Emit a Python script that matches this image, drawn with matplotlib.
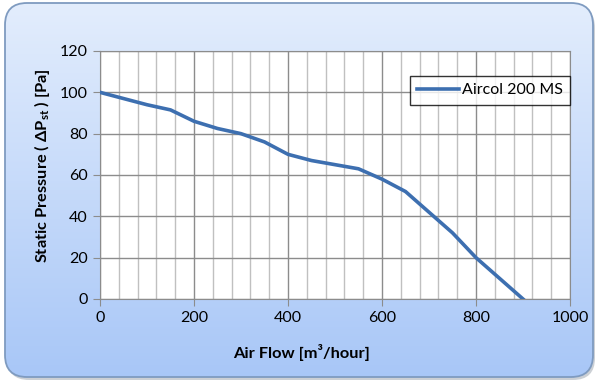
import matplotlib.pyplot as plt
import numpy as np
from matplotlib.patches import FancyBboxPatch
from matplotlib.ticker import MultipleLocator

# data
air_flow = [0, 50, 100, 150, 200, 250, 300, 350, 400, 450, 500, 550, 600, 650, 700, 750, 800, 850, 900]
pressure = [100, 97, 94, 91.5, 86, 82.5, 80, 76, 70, 67, 65, 63, 58, 52, 42, 32, 20, 10, 0]
serie = "Aircol 200 MS"

plt.rcParams['font.family'] = ['Lato', 'DejaVu Sans']
plt.rcParams['mathtext.fontset'] = 'custom'
plt.rcParams['mathtext.rm'] = 'Lato'
plt.rcParams['mathtext.bf'] = 'Lato:bold'
plt.rcParams['mathtext.fallback'] = 'stixsans'

fig = plt.figure(figsize=(6, 3.86), dpi=100)

# fondo con degradado y esquinas redondeadas
fondo = fig.add_axes([0, 0, 1, 1])
fondo.set_xlim(0, 600)
fondo.set_ylim(386, 0)
fondo.axis('off')
sombra = FancyBboxPatch((7, 6), 588, 374, boxstyle="round,pad=0,rounding_size=22",
                        fc='#9aa3ad', ec='none', alpha=0.5, zorder=0)
fondo.add_patch(sombra)
caja = FancyBboxPatch((5, 3), 588, 374, boxstyle="round,pad=0,rounding_size=22",
                      fc='none', ec='#7f9bc0', lw=1.3, zorder=3)
fondo.add_patch(caja)
grad = np.linspace(0, 1, 256).reshape(-1, 1)
top = np.array([0.89, 0.93, 0.99])
bot = np.array([0.66, 0.78, 0.97])
img = top + (bot - top) * grad[..., None]
im = fondo.imshow(img, extent=(5, 593, 377, 3), aspect='auto', zorder=1)
im.set_clip_path(caja)

ax = fig.add_axes([100/600, 1-299/386, 470/600, 248/386])
ax.set_facecolor('white')
ax.plot(air_flow, pressure, color='#3d6fb0', lw=2.6, solid_joinstyle='round', label=serie, zorder=3)

ax.set_xlim(0, 1000)
ax.set_ylim(0, 120)
ax.xaxis.set_major_locator(MultipleLocator(200))
ax.xaxis.set_minor_locator(MultipleLocator(40))
ax.yaxis.set_major_locator(MultipleLocator(20))
ax.grid(which='major', axis='x', color='#8c8c8c', lw=1)
ax.grid(which='minor', axis='x', color='#c0c0c0', lw=1)
ax.grid(which='major', axis='y', color='#8c8c8c', lw=1)
ax.tick_params(which='minor', length=0)
ax.tick_params(which='major', direction='out', length=5, color='#8c8c8c', labelsize=11.5, pad=4)
for s in ax.spines.values():
    s.set_color('#8c8c8c')

ax.set_xlabel('Air Flow [m³/hour]', fontsize=11.8, fontweight='bold')
ax.set_ylabel(r'Static Pressure ( $\mathbf{\Delta P_{st}}$ ) [Pa]', fontsize=11.8, fontweight='bold')
ax.xaxis.set_label_coords((302-100)/470, (299-344)/248)
ax.yaxis.set_label_coords((52-100)/470, (299-166)/248)

leg = ax.legend(loc='upper left', bbox_to_anchor=(310/470, 1-25/248), fontsize=11.5,
                frameon=True, fancybox=False, edgecolor='black', handlelength=2.6,
                borderpad=0.45, handletextpad=0.2, borderaxespad=0)
leg.get_frame().set_linewidth(1)

fig.savefig('out.png', dpi=100)
